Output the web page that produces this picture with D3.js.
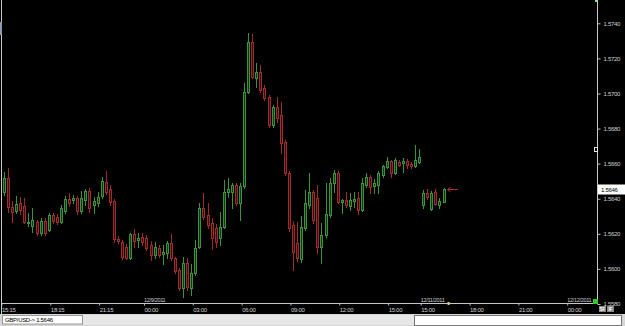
<!DOCTYPE html>
<html>
<head>
<meta charset="utf-8">
<title>GBP/USD 15 min</title>
<script src="https://d3js.org/d3.v7.min.js"></script>
<style>
  body { margin: 0; background: #000; }
  svg text { font-family: "Liberation Sans", Arial, sans-serif; }
</style>
</head>
<body>
<div id="chart"></div>
<script>

// 15 min bars: index 0-102 = 12/8 15:15 .. 12/9 16:45, index 103-108 = 12/11 15:00 ..
var opens = [1.56438,1.56518,1.56353,1.56330,1.56376,1.56359,1.56262,1.56245,1.56267,1.56205,
  1.56273,1.56222,1.56307,1.56296,1.56267,1.56330,1.56399,1.56393,1.56404,1.56330,
  1.56393,1.56444,1.56364,1.56376,1.56416,1.56495,1.56456,1.56387,1.56171,1.56153,
  1.56125,1.56062,1.56199,1.56165,1.56182,1.56176,1.56136,1.56079,1.56119,1.56085,
  1.56091,1.56148,1.56062,1.55994,1.55891,1.56034,1.55891,1.55977,1.56125,1.56347,
  1.56307,1.56262,1.56233,1.56176,1.56239,1.56438,1.56438,1.56478,1.56376,1.56473,
  1.57008,1.57293,1.57088,1.57122,1.57031,1.56980,1.56820,1.56923,1.56877,1.56723,
  1.56547,1.56250,1.56148,1.56057,1.56233,1.56364,1.56438,1.56404,1.56125,1.56193,
  1.56307,1.56490,1.56547,1.56381,1.56393,1.56359,1.56387,1.56404,1.56336,1.56478,
  1.56524,1.56473,1.56478,1.56535,1.56581,1.56615,1.56547,1.56609,1.56604,1.56615,
  1.56598,1.56587,1.56609,
  1.56364,1.56433,1.56342,1.56438,1.56364,1.56381];
var highs = [1.56552,1.56575,1.56387,1.56416,1.56410,1.56404,1.56319,1.56347,1.56279,1.56290,
  1.56290,1.56319,1.56319,1.56313,1.56364,1.56416,1.56433,1.56421,1.56416,1.56444,
  1.56456,1.56461,1.56410,1.56438,1.56524,1.56558,1.56478,1.56399,1.56188,1.56165,
  1.56142,1.56205,1.56228,1.56205,1.56205,1.56193,1.56159,1.56153,1.56136,1.56136,
  1.56159,1.56199,1.56068,1.56005,1.56068,1.56062,1.56028,1.56165,1.56376,1.56433,
  1.56376,1.56290,1.56256,1.56324,1.56507,1.56518,1.56490,1.56490,1.56490,1.57060,
  1.57345,1.57339,1.57174,1.57162,1.57048,1.56991,1.56934,1.56980,1.56951,1.56735,
  1.56558,1.56273,1.56267,1.56302,1.56450,1.56547,1.56450,1.56478,1.56262,1.56490,
  1.56518,1.56564,1.56558,1.56399,1.56438,1.56433,1.56438,1.56438,1.56518,1.56547,
  1.56535,1.56513,1.56558,1.56592,1.56638,1.56621,1.56632,1.56621,1.56632,1.56627,
  1.56609,1.56706,1.56684,
  1.56450,1.56456,1.56444,1.56456,1.56404,1.56461];
var lows = [1.56421,1.56324,1.56267,1.56319,1.56313,1.56262,1.56245,1.56210,1.56193,1.56193,
  1.56193,1.56216,1.56262,1.56256,1.56262,1.56319,1.56359,1.56376,1.56313,1.56319,
  1.56364,1.56324,1.56319,1.56359,1.56404,1.56427,1.56364,1.56153,1.56148,1.56057,
  1.56057,1.56057,1.56125,1.56125,1.56136,1.56108,1.56051,1.56062,1.56068,1.56028,
  1.56062,1.56051,1.55977,1.55880,1.55840,1.55880,1.55851,1.55965,1.56119,1.56285,
  1.56233,1.56114,1.56125,1.56136,1.56233,1.56410,1.56347,1.56364,1.56279,1.56461,
  1.57003,1.57088,1.57037,1.57008,1.56963,1.56809,1.56809,1.56837,1.56661,1.56535,
  1.56216,1.55994,1.56045,1.56039,1.56222,1.56347,1.56262,1.56091,1.56034,1.56182,
  1.56296,1.56438,1.56376,1.56319,1.56353,1.56336,1.56353,1.56313,1.56330,1.56467,
  1.56433,1.56433,1.56433,1.56524,1.56575,1.56524,1.56541,1.56587,1.56552,1.56575,
  1.56575,1.56581,1.56604,
  1.56347,1.56399,1.56336,1.56364,1.56347,1.56381];
var closes = [1.56518,1.56353,1.56324,1.56370,1.56336,1.56267,1.56267,1.56279,1.56205,1.56273,
  1.56205,1.56307,1.56273,1.56267,1.56347,1.56399,1.56376,1.56404,1.56330,1.56404,
  1.56444,1.56347,1.56387,1.56410,1.56501,1.56438,1.56381,1.56171,1.56159,1.56068,
  1.56062,1.56199,1.56159,1.56176,1.56153,1.56119,1.56079,1.56125,1.56079,1.56096,
  1.56148,1.56062,1.55988,1.55891,1.56034,1.55897,1.55977,1.56119,1.56347,1.56296,
  1.56250,1.56176,1.56153,1.56239,1.56438,1.56456,1.56478,1.56376,1.56473,1.57008,
  1.57293,1.57094,1.57122,1.57020,1.56974,1.56820,1.56923,1.56860,1.56718,1.56547,
  1.56233,1.56096,1.56062,1.56239,1.56376,1.56438,1.56279,1.56125,1.56193,1.56313,
  1.56490,1.56547,1.56381,1.56393,1.56364,1.56393,1.56399,1.56336,1.56490,1.56524,
  1.56467,1.56490,1.56547,1.56587,1.56615,1.56547,1.56621,1.56592,1.56615,1.56592,
  1.56587,1.56621,1.56638,
  1.56433,1.56410,1.56433,1.56370,1.56387,1.56456];

// axis ticks (bar index -> label)
var timeTicks = [0, 12, 24, 35, 47, 59, 71, 83, 95, 103, 115, 127, 139];
var timeLabels = ["15:15","18:15","21:15","00:00","03:00","06:00","09:00","12:00","15:00","15:00","18:00","21:00","00:00"];
var dateTicks = [35, 103, 139];
var dateLabels = ["12/9/2011","12/11/2011","12/12/2011"];
var priceTicks = [1.5580,1.5600,1.5620,1.5640,1.5660,1.5680,1.5700,1.5720,1.5740];
var symbol = "GBP/USD";

var W = 625, H = 326;
var barStep = 4.07;
var upColor = "#3b933b", upFill = "#143614";
var downColor = "#a02b2b", downFill = "#361010";
var textColor = "#cfcfcf";

var svg = d3.select("#chart").append("svg")
    .attr("width", W)
    .attr("height", H)
    .style("display", "block");

svg.append("rect").attr("width", W).attr("height", H).attr("fill", "#000");

// scales
var x = d3.scaleLinear().domain([0, 146]).range([4, 4 + 146 * barStep]);
var y = d3.scaleLinear().domain([1.5580, 1.5740]).range([304, 23.3]);

var bars = opens.map(function(o, i) {
    return {i: i, o: o, h: highs[i], l: lows[i], c: closes[i]};
});

svg.append("clipPath").attr("id", "plotclip")
  .append("rect").attr("x", 3).attr("y", 0).attr("width", 594).attr("height", 303);

var plot = svg.append("g")
    .attr("clip-path", "url(#plotclip)")
    .attr("shape-rendering", "crispEdges");

var candle = plot.selectAll("g.candle")
    .data(bars)
    .enter()
    .append("g")
    .attr("class", "candle");

// wicks
candle.append("line")
    .attr("x1", function(d){ return Math.round(x(d.i)) + 0.5; })
    .attr("x2", function(d){ return Math.round(x(d.i)) + 0.5; })
    .attr("y1", function(d){ return Math.round(y(d.h)); })
    .attr("y2", function(d){ return Math.round(y(d.l)) + 1; })
    .attr("stroke", function(d){ return d.c >= d.o ? upColor : downColor; });

// bodies
candle.append("rect")
    .attr("x", function(d){ return Math.round(x(d.i)) - 0.5; })
    .attr("width", 2)
    .attr("y", function(d){ return Math.round(y(Math.max(d.o, d.c))) + 0.5; })
    .attr("height", function(d){
        var t = Math.round(y(Math.max(d.o, d.c))), b = Math.round(y(Math.min(d.o, d.c)));
        return Math.max(b - t, 1);
    })
    .attr("fill", function(d){ return d.c >= d.o ? upFill : downFill; })
    .attr("stroke", function(d){ return d.c >= d.o ? upColor : downColor; });

// price axis on the right
var yAxis = d3.axisRight(y)
    .tickValues(priceTicks)
    .tickSize(3)
    .tickPadding(3)
    .tickFormat(d3.format(".4f"));

var yg = svg.append("g")
    .attr("transform", "translate(597.5,0)")
    .call(yAxis);
yg.select(".domain").remove();
yg.selectAll(".tick line").attr("stroke", "#bbb");
yg.selectAll(".tick text")
    .attr("fill", textColor)
    .style("font-size", "6px")
    .style("letter-spacing", "-0.3px");

svg.append("line")
    .attr("x1", 597.5).attr("x2", 597.5).attr("y1", 0).attr("y2", 304)
    .attr("stroke", "#c8c8c8");

// time axis along the bottom
var xAxis = d3.axisBottom(x)
    .tickValues(timeTicks)
    .tickSize(2)
    .tickPadding(2)
    .tickFormat(function(d, i){ return timeLabels[i]; });

var xg = svg.append("g")
    .attr("transform", "translate(-2.5,303.5)")
    .call(xAxis);
xg.select(".domain").remove();
xg.selectAll(".tick line").attr("stroke", "#bbb");
xg.selectAll(".tick text")
    .attr("text-anchor", "start")
    .attr("fill", textColor)
    .style("font-size", "6px")
    .style("letter-spacing", "-0.3px");

svg.append("line")
    .attr("x1", 2).attr("x2", 598).attr("y1", 303.5).attr("y2", 303.5)
    .attr("stroke", "#c8c8c8");

svg.selectAll("text.date")
    .data(dateTicks)
    .enter()
    .append("text")
    .attr("class", "date")
    .attr("x", function(d){ return x(d) - 2.5; })
    .attr("y", 302)
    .attr("fill", textColor)
    .style("font-size", "5.5px")
    .style("letter-spacing", "-0.3px")
    .text(function(d, i){ return dateLabels[i]; });

// left frame edge
svg.append("line")
    .attr("x1", 1.5).attr("x2", 1.5).attr("y1", 0).attr("y2", 314)
    .attr("stroke", "#c8c8c8");
svg.append("rect").attr("x", 0).attr("y", 22).attr("width", 2).attr("height", 13).attr("fill", "#8a9bb0");

// last price marker
var last = bars[bars.length - 1];
var ly = Math.round(y(last.c)) + 0.5;
var ax = x(last.i) + 4;
svg.append("path")
    .attr("d", "M" + (ax + 10) + "," + ly + "H" + ax + "M" + (ax + 3) + "," + (ly - 2.5) + "L" + ax + "," + ly + "L" + (ax + 3) + "," + (ly + 2.5))
    .attr("fill", "none")
    .attr("stroke", "#b83030");

svg.append("rect")
    .attr("x", 598).attr("y", ly - 5).attr("width", 27).attr("height", 10)
    .attr("fill", "#fff");
svg.append("text")
    .attr("x", 601).attr("y", ly + 2.2)
    .attr("fill", "#000")
    .style("font-size", "6px")
    .style("letter-spacing", "-0.3px")
    .text(d3.format(".4f")(last.c));

// small chart markers
svg.append("rect").attr("x", 594.5).attr("y", 147.5).attr("width", 3).attr("height", 4)
    .attr("fill", "#000").attr("stroke", "#e8e8e8");
svg.append("rect").attr("x", 593).attr("y", 299).attr("width", 5).attr("height", 5).attr("fill", "#2fc82f");
svg.append("rect").attr("x", x(last.i) + 4).attr("y", 302).attr("width", 2).attr("height", 3).attr("fill", "#e8d24a");
svg.append("rect").attr("x", 595).attr("y", 0).attr("width", 3).attr("height", 2).attr("fill", "#9ed89e");

// SF / IF buttons
[["SF", 599], ["IF", 607]].forEach(function(b){
    svg.append("rect").attr("x", b[1]).attr("y", 306).attr("width", 7).attr("height", 6).attr("fill", "#8a8a8a");
    svg.append("text").attr("x", b[1] + 3.5).attr("y", 311).attr("text-anchor", "middle")
        .attr("fill", "#fff").style("font-size", "4.5px").style("font-weight", "bold").text(b[0]);
});

// status bar
svg.append("rect").attr("x", 0).attr("y", 314).attr("width", W).attr("height", 12).attr("fill", "#d6d6d6");
svg.append("rect").attr("x", 2.5).attr("y", 315.5).attr("width", 80).attr("height", 8.5)
    .attr("fill", "#fff").attr("stroke", "#9a9a9a");
svg.append("text").attr("x", 5).attr("y", 322.3)
    .attr("fill", "#000").style("font-size", "6px").style("letter-spacing", "-0.3px")
    .text(symbol + "-> " + d3.format(".4f")(last.c));
svg.append("rect").attr("x", 83).attr("y", 315).attr("width", 331).attr("height", 10).attr("fill", "#e6e6e6");
svg.append("rect").attr("x", 414.5).attr("y", 315.5).attr("width", 207).attr("height", 10)
    .attr("fill", "#fff").attr("stroke", "#777");

</script>
</body>
</html>
